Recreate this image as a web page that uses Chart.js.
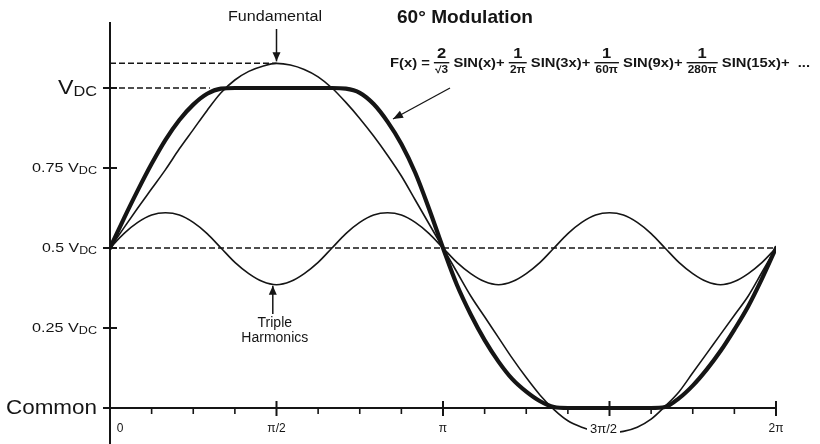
<!DOCTYPE html>
<html>
<head>
<meta charset="utf-8">
<script src="https://cdn.jsdelivr.net/npm/chart.js@4/dist/chart.umd.min.js"></script>
<style>
  html, body { margin: 0; padding: 0; background: #ffffff; }
  #wrap { width: 820px; height: 444px; position: relative; }
</style>
</head>
<body>
<div id="wrap"><canvas id="chart" width="820" height="444"></canvas></div>
<script>
// ---------------- DATA ----------------
// electrical angle, degrees (0 .. 360 = 0 .. 2π)
const angleDeg = [0,7.5,15,22.5,30,37.5,45,52.5,60,67.5,75,82.5,90,97.5,105,112.5,120,127.5,135,142.5,150,157.5,165,172.5,180,
                  187.5,195,202.5,210,217.5,225,232.5,240,247.5,255,262.5,270,277.5,285,292.5,300,307.5,315,322.5,330,337.5,345,352.5,360];

// 60° modulation waveform (thick curve), fraction of VDC
const modulation = [0.500,0.592,0.680,0.763,0.838,0.900,0.948,0.982,0.998,1.000,1.000,1.000,1.000,1.000,1.000,1.000,1.000,0.998,0.985,0.950,0.895,0.825,0.735,0.622,0.500,
                    0.385,0.292,0.212,0.145,0.090,0.051,0.021,0.003,0.000,0.000,0.000,0.000,0.000,0.000,0.000,0.003,0.030,0.070,0.120,0.178,0.245,0.318,0.405,0.500];

// Fundamental (thin curve)
const fundamental = [0.500,0.563,0.625,0.685,0.745,0.810,0.870,0.930,0.985,1.025,1.052,1.068,1.077,1.072,1.058,1.035,1.000,0.955,0.905,0.850,0.790,0.725,0.650,0.575,0.500,
                     0.425,0.350,0.285,0.220,0.155,0.095,0.040,-0.005,-0.040,-0.060,-0.073,-0.077,-0.073,-0.060,-0.035,0.005,0.050,0.110,0.170,0.230,0.290,0.350,0.425,0.500];

// Triple harmonics (thin curve round 0.5 VDC)
const tripleHarmonics = [0.500,0.545,0.580,0.603,0.610,0.603,0.580,0.545,0.500,0.455,0.420,0.395,0.385,0.395,0.420,0.455,0.500,
                         0.545,0.580,0.603,0.610,0.603,0.580,0.545,0.500,0.455,0.420,0.395,0.385,0.395,0.420,0.455,0.500,
                         0.545,0.580,0.603,0.610,0.603,0.580,0.545,0.500,0.455,0.420,0.395,0.385,0.395,0.420,0.455,0.500];

// dashed reference levels
const peakLevel = 1.077;          // fundamental peak
const vdcLevel = 1.0;
const halfLevel = 0.5;
const peakDashEndDeg = 90;
const vdcDashEndDeg = 54;
const halfDashEndDeg = 360;

// axis ticks
const xTickValues = [0, 90, 180, 270, 360];
const xTickLabels = ['0', 'π/2', 'π', '3π/2', '2π'];
const xMinorTicks = [22.5,45,67.5,112.5,135,157.5,202.5,225,247.5,292.5,315,337.5];
const yTickValues = [0, 0.25, 0.5, 0.75, 1.0];
const yTickMain = ['Common', '0.25 V', '0.5 V', '0.75 V', 'V'];
const yTickSub  = ['', 'DC', 'DC', 'DC', 'DC'];

// texts
const titleText = '60° Modulation';
const fundamentalText = 'Fundamental';
const tripleText = ['Triple', 'Harmonics'];
const formulaParts = [
  {t: 'F(x) = '},
  {n: '2', d: '√3'}, {t: ' SIN(x)+ '},
  {n: '1', d: '2π'}, {t: ' SIN(3x)+ '},
  {n: '1', d: '60π'}, {t: ' SIN(9x)+ '},
  {n: '1', d: '280π'}, {t: ' SIN(15x)+  ...'}
];

// ---------------- CHART ----------------
const INK = '#151515';
const FONT = '"Liberation Sans", Arial, Helvetica, sans-serif';
const pts = arr => angleDeg.map((a, i) => ({x: a, y: arr[i]}));

function line(ctx, x1, y1, x2, y2) { ctx.beginPath(); ctx.moveTo(x1, y1); ctx.lineTo(x2, y2); ctx.stroke(); }
function arrow(ctx, x1, y1, x2, y2, len, half) {
  line(ctx, x1, y1, x2, y2);
  const a = Math.atan2(y2 - y1, x2 - x1);
  ctx.beginPath();
  ctx.moveTo(x2, y2);
  ctx.lineTo(x2 - len * Math.cos(a) + half * Math.sin(a), y2 - len * Math.sin(a) - half * Math.cos(a));
  ctx.lineTo(x2 - len * Math.cos(a) - half * Math.sin(a), y2 - len * Math.sin(a) + half * Math.cos(a));
  ctx.closePath(); ctx.fill();
}
function textW(ctx, str, left, y, width) {
  const w = ctx.measureText(str).width;
  ctx.save(); ctx.translate(left, y); ctx.scale(width / w, 1);
  ctx.textAlign = 'left'; ctx.fillText(str, 0, 0); ctx.restore();
}

const deco = {
  id: 'deco',
  beforeDatasetsDraw(chart) {
    const {ctx, scales: {x, y}} = chart;
    ctx.save();
    ctx.strokeStyle = INK; ctx.fillStyle = INK; ctx.lineWidth = 2;
    const x0 = x.getPixelForValue(0), y0 = y.getPixelForValue(0);
    line(ctx, x0, y.getPixelForValue(1.206), x0, chart.chartArea.bottom);
    line(ctx, x0 - 7, y0, x.getPixelForValue(360), y0);
    yTickValues.forEach(v => { const py = y.getPixelForValue(v); line(ctx, x0 - 7, py, x0 + 7, py); });
    xTickValues.forEach(v => { const px = x.getPixelForValue(v); line(ctx, px, y0 - 7, px, y0 + 8); });
    ctx.lineWidth = 1.6;
    xMinorTicks.forEach(v => { const px = x.getPixelForValue(v); line(ctx, px, y0, px, y0 + 6); });
    ctx.restore();
  },
  afterDatasetsDraw(chart) {
    const {ctx, scales: {x, y}} = chart;
    ctx.save();
    ctx.fillStyle = INK; ctx.strokeStyle = INK;
    ctx.textBaseline = 'middle';

    // y tick labels with subscripts
    const yLabelLeft = [6, 32, 42, 32, 58];
    yTickValues.forEach((v, i) => {
      const py = y.getPixelForValue(v);
      const big = (i === 0 || i === 4);
      const mainFont = big ? `20px ${FONT}` : `13.5px ${FONT}`;
      const subFont = big ? `14px ${FONT}` : `10.5px ${FONT}`;
      const right = 97;
      ctx.font = subFont; const ws = yTickSub[i] ? ctx.measureText(yTickSub[i]).width : 0;
      ctx.font = mainFont; const wm = ctx.measureText(yTickMain[i]).width;
      const sx = (right - yLabelLeft[i]) / (wm + ws);
      ctx.save(); ctx.translate(yLabelLeft[i], py); ctx.scale(sx, 1);
      ctx.textAlign = 'left';
      ctx.fillText(yTickMain[i], 0, 0);
      if (yTickSub[i]) { ctx.font = subFont; ctx.fillText(yTickSub[i], wm, big ? 4 : 3); }
      ctx.restore();
    });

    // x tick labels
    const y0 = y.getPixelForValue(0);
    xTickValues.forEach((v, i) => {
      let px = x.getPixelForValue(v);
      ctx.textAlign = 'center';
      if (i === 0) px += 10;
      if (i === 3) {
        px -= 6;
        ctx.font = `13px ${FONT}`;
        const w = ctx.measureText(xTickLabels[i]).width;
        ctx.fillStyle = '#ffffff'; ctx.fillRect(px - w / 2 - 3, y0 + 15, w + 6, 14);
        ctx.fillStyle = INK;
      } else ctx.font = `12px ${FONT}`;
      ctx.fillText(xTickLabels[i], px, y0 + 21);
    });

    // Fundamental label + arrow
    const pk = x.getPixelForValue(90);
    ctx.font = `14px ${FONT}`;
    textW(ctx, fundamentalText, 228, 17, 94);
    ctx.lineWidth = 1.5;
    arrow(ctx, pk, 29, pk, y.getPixelForValue(peakLevel) - 2, 9, 4);

    // Title
    ctx.font = `bold 19px ${FONT}`;
    textW(ctx, titleText, 397, 18, 136);

    // Formula
    const fLeft = 390, fRight = 810, fy = 64;
    const mainF = `bold 12.5px ${FONT}`, numF = `bold 14px ${FONT}`, denF = `bold 10px ${FONT}`;
    const widths = formulaParts.map(p => {
      if (p.t) { ctx.font = mainF; return ctx.measureText(p.t).width; }
      ctx.font = numF; const wn = ctx.measureText(p.n).width;
      ctx.font = denF; const wd = ctx.measureText(p.d).width;
      return Math.max(wn, wd) + 2;
    });
    const total = widths.reduce((a, b) => a + b, 0);
    ctx.save(); ctx.translate(fLeft, fy); ctx.scale((fRight - fLeft) / total, 1);
    let fx = 0;
    formulaParts.forEach((p, i) => {
      const w = widths[i];
      if (p.t) { ctx.font = mainF; ctx.textAlign = 'left'; ctx.fillText(p.t, fx, 0); }
      else {
        ctx.textAlign = 'center';
        ctx.font = numF; ctx.fillText(p.n, fx + w / 2, -10);
        ctx.fillRect(fx, -2, w, 1.4);
        ctx.font = denF; ctx.fillText(p.d, fx + w / 2, 6);
      }
      fx += w;
    });
    ctx.restore();

    // formula arrow to modulated waveform
    ctx.lineWidth = 1.3;
    arrow(ctx, 450, 88, 393, 119, 10, 4);

    // Triple harmonics label + arrow
    const tp = x.getPixelForValue(88);
    ctx.lineWidth = 1.5;
    arrow(ctx, tp, 314, tp, y.getPixelForValue(0.385) + 1, 9, 4);
    ctx.font = `14px ${FONT}`; ctx.textAlign = 'center';
    ctx.fillText(tripleText[0], tp + 2, 323);
    ctx.fillText(tripleText[1], tp + 2, 338);
    ctx.restore();
  }
};

new Chart(document.getElementById('chart'), {
  type: 'line',
  data: {
    datasets: [
      { label: 'Peak level', data: [{x: 0, y: peakLevel}, {x: peakDashEndDeg, y: peakLevel}], borderColor: INK, borderWidth: 1.5, borderDash: [6, 3], pointRadius: 0 },
      { label: 'VDC level', data: [{x: 0, y: vdcLevel}, {x: vdcDashEndDeg, y: vdcLevel}], borderColor: INK, borderWidth: 1.5, borderDash: [6, 3], pointRadius: 0 },
      { label: '0.5 VDC level', data: [{x: 0, y: halfLevel}, {x: halfDashEndDeg, y: halfLevel}], borderColor: INK, borderWidth: 1.5, borderDash: [6, 3], pointRadius: 0 },
      { label: 'Triple Harmonics', data: pts(tripleHarmonics), borderColor: INK, borderWidth: 1.6, pointRadius: 0, tension: 0.4, cubicInterpolationMode: 'monotone' },
      { label: 'Fundamental', data: pts(fundamental), borderColor: INK, borderWidth: 1.6, pointRadius: 0, tension: 0.4, cubicInterpolationMode: 'monotone' },
      { label: '60° Modulation', data: pts(modulation), borderColor: INK, borderWidth: 4.2, pointRadius: 0, tension: 0.4, cubicInterpolationMode: 'monotone', borderJoinStyle: 'round', borderCapStyle: 'round' }
    ]
  },
  options: {
    responsive: false,
    devicePixelRatio: 1,
    animation: false,
    layout: { padding: { left: 110, right: 44, top: 0, bottom: 0 } },
    plugins: { legend: { display: false }, tooltip: { enabled: false } },
    scales: {
      x: { type: 'linear', min: 0, max: 360, display: false },
      y: { type: 'linear', min: -0.1125, max: 1.275, display: false }
    },
    elements: { line: { fill: false } }
  },
  plugins: [deco]
});
</script>
</body>
</html>
